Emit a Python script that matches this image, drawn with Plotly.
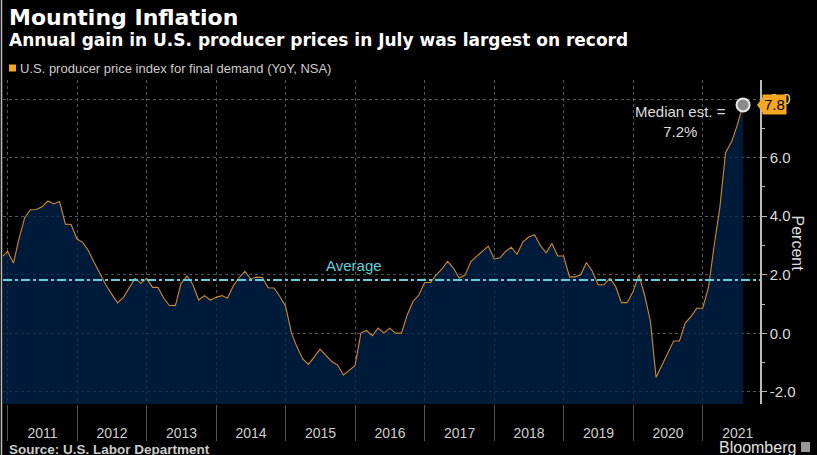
import pandas as pd
import plotly.graph_objects as go

# ---------------- data ----------------
START_MONTH = "2010-11-30"
END_MONTH = "2021-07-31"
PPI_2010 = [2.6, 2.8]
PPI_2011 = [2.4, 3.2, 3.95, 4.22, 4.23, 4.32, 4.52, 4.42, 4.5, 3.73, 3.72, 3.22]
PPI_2012 = [3.1, 2.82, 2.41, 2.02, 1.65, 1.34, 1.04, 1.23, 1.55, 1.88, 1.71, 1.88]
PPI_2013 = [1.57, 1.57, 1.2, 0.95, 0.95, 1.71, 1.96, 1.66, 1.14, 1.29, 1.14, 1.23]
PPI_2014 = [1.29, 1.2, 1.62, 1.9, 2.12, 1.86, 1.92, 1.91, 1.56, 1.55, 1.27, 0.93]
PPI_2015 = [0.01, -0.45, -0.87, -1.06, -0.8, -0.54, -0.75, -0.96, -1.08, -1.42, -1.26, -1.1]
PPI_2016 = [0.02, 0.1, -0.08, 0.18, 0.01, 0.18, 0.01, 0.01, 0.63, 1.09, 1.31, 1.74]
PPI_2017 = [1.74, 1.99, 2.19, 2.46, 2.23, 1.89, 1.99, 2.46, 2.63, 2.82, 2.98, 2.54]
PPI_2018 = [2.58, 2.79, 2.94, 2.7, 3.12, 3.29, 3.37, 3.0, 2.75, 3.07, 2.64, 2.64]
PPI_2019 = [1.93, 1.93, 2.0, 2.42, 2.12, 1.66, 1.66, 1.88, 1.61, 1.05, 1.05, 1.43]
PPI_2020 = [2.0, 1.32, 0.42, -1.5, -1.1, -0.7, -0.26, -0.26, 0.35, 0.58, 0.86, 0.86]
PPI_2021 = [1.6, 2.95, 4.3, 6.17, 6.53, 7.1, 7.8]
AVERAGE = 1.82
MEDIAN_EST = 7.2
Y_TICK_VALUES = [-2, 0, 2, 4, 6, 8]
Y_TICK_TEXT = ["-2.0", "0.0", "2.0", "4.0", "6.0", "8.0"]
SERIES_NAME = "U.S. producer price index for final demand (YoY, NSA)"

values = (PPI_2010 + PPI_2011 + PPI_2012 + PPI_2013 + PPI_2014 + PPI_2015 +
          PPI_2016 + PPI_2017 + PPI_2018 + PPI_2019 + PPI_2020 + PPI_2021)
dates = pd.date_range(START_MONTH, END_MONTH, freq="ME")
assert len(dates) == len(values)

# ---------------- styling ----------------
X_RANGE = ["2010-12-07", "2021-10-28"]
Y_RANGE = [-2.41, 8.65]
BG = "#000000"
FILL = "rgba(0,36,78,0.73)"
LINE = "#cf8a30"
ORANGE = "#f5a623"
CYAN = "#5fd0de"
GRID = "#555555"
TXT = "#d9d9d9"
FONT = "Liberation Sans"

fig = go.Figure()

# baseline at the bottom of the axis so the area fills to the floor
fig.add_trace(go.Scatter(x=dates, y=[Y_RANGE[0]] * len(dates), mode="lines",
                         line=dict(width=0), hoverinfo="skip", showlegend=False))
fig.add_trace(go.Scatter(x=dates, y=values, mode="lines", name=SERIES_NAME,
                         line=dict(color=LINE, width=1.1), fill="tonexty",
                         fillcolor=FILL, showlegend=False))
fig.add_trace(go.Scatter(x=[dates[-1]], y=[values[-1]], mode="markers",
                         marker=dict(size=13, color="#8a8a8a",
                                     line=dict(color="#e8e8e8", width=2)),
                         showlegend=False, hoverinfo="skip"))

fig.update_layout(
    width=817, height=455,
    margin=dict(l=3, r=57, t=80, b=51),
    paper_bgcolor=BG, plot_bgcolor=BG,
    font=dict(family=FONT, color=TXT),
    xaxis=dict(
        type="date", range=X_RANGE, tick0="2011-01-01", dtick="M12",
        tickformat="%Y", ticklabelmode="period",
        ticks="outside", ticklen=36, tickcolor="#555555", tickwidth=1,
        ticklabelstandoff=-20,
        tickfont=dict(size=14, color="#cfcfcf", family=FONT),
        showgrid=True, gridcolor=GRID, griddash="dot", gridwidth=1,
        showline=False, zeroline=False, fixedrange=True,
    ),
    yaxis=dict(
        side="right", range=Y_RANGE, tickvals=Y_TICK_VALUES, ticktext=Y_TICK_TEXT,
        ticks="outside", ticklen=5, tickcolor="#bbbbbb",
        tickfont=dict(size=15, color="#dcdcdc", family=FONT),
        showline=True, linecolor="#bbbbbb", linewidth=1.5,
        showgrid=True, gridcolor=GRID, griddash="dot", gridwidth=1,
        zeroline=False,
        minor=dict(dtick=1, tick0=-3, ticks="outside", ticklen=3,
                   tickcolor="#bbbbbb", showgrid=False),
    ),
)

# average line
fig.add_shape(type="line", xref="paper", x0=0, x1=1, yref="y", y0=AVERAGE, y1=AVERAGE,
              line=dict(color=CYAN, width=2, dash="dashdot"), layer="above")

def px_x(p):
    return (p - 3) / 757.0

def px_y(p):
    return (404 - p) / 324.0

annots = [
    dict(text="<b>Mounting Inflation</b>", x=px_x(7), y=px_y(17),
         font=dict(size=22, color="#ffffff", family="DejaVu Sans")),
    dict(text="<b>Annual gain in U.S. producer prices in July was largest on record</b>",
         x=px_x(7), y=px_y(40), font=dict(size=17, color="#ffffff", family="DejaVu Sans")),
    dict(text=SERIES_NAME, x=px_x(18), y=px_y(68),
         font=dict(size=13, color="#cccccc", family=FONT)),
    dict(text="<b>Source: U.S. Labor Department</b>", x=px_x(7), y=px_y(449),
         font=dict(size=13.5, color="#cccccc", family=FONT)),
]
for a in annots:
    fig.add_annotation(xref="paper", yref="paper", xanchor="left", yanchor="middle",
                       showarrow=False, **a)

# legend swatch
fig.add_shape(type="rect", xref="paper", yref="paper", x0=px_x(9), x1=px_x(16),
              y0=px_y(71.5), y1=px_y(64.5), fillcolor=ORANGE, line=dict(width=0))

fig.add_annotation(xref="paper", yref="paper", x=px_x(798), y=px_y(447), xanchor="right",
                   yanchor="middle", showarrow=False, text="Bloomberg",
                   font=dict(size=16, color="#e0e0e0", family=FONT))
fig.add_shape(type="rect", xref="paper", yref="paper", x0=px_x(801), x1=px_x(810),
              y0=px_y(452), y1=px_y(442), fillcolor="#9a9a9a", line=dict(width=0))

fig.add_annotation(xref="paper", yref="y", x=px_x(354), y=AVERAGE, yshift=15,
                   showarrow=False, text="Average",
                   font=dict(size=15, color=CYAN, family=FONT))

fig.add_annotation(xref="paper", yref="paper", x=px_x(808), y=px_y(243),
                   textangle=90, showarrow=False, text="Percent",
                   font=dict(size=16, color="#dcdcdc", family=FONT))

fig.add_annotation(x=dates[-1], y=values[-1], xref="x", yref="y", showarrow=False,
                   xshift=-63, yshift=-17,
                   text=f"Median est. =<br>{MEDIAN_EST:.1f}%", align="center",
                   font=dict(size=15, color="#dddddd", family=FONT))

# value tag at right axis
fig.add_annotation(xref="paper", yref="y", x=1, y=values[-1], xanchor="left", xshift=2,
                   showarrow=False, text=f"{values[-1]:.1f}", bgcolor=ORANGE,
                   borderpad=1, font=dict(size=15, color="#000000", family=FONT))
fig.add_shape(type="path", xref="paper", yref="y", xsizemode="pixel", ysizemode="pixel",
              xanchor=1, yanchor=values[-1], path="M -3,0 L 3,8 L 3,-8 Z",
              fillcolor=ORANGE, line=dict(width=0))

# left border line
fig.add_shape(type="line", xref="paper", yref="paper", x0=px_x(1.5), x1=px_x(1.5),
              y0=px_y(455), y1=px_y(0), line=dict(color="#bbbbbb", width=1.5))

fig.write_html("out.html", config={"displayModeBar": False},
               post_script="document.body.style.margin='0';document.body.style.overflow='hidden';")
